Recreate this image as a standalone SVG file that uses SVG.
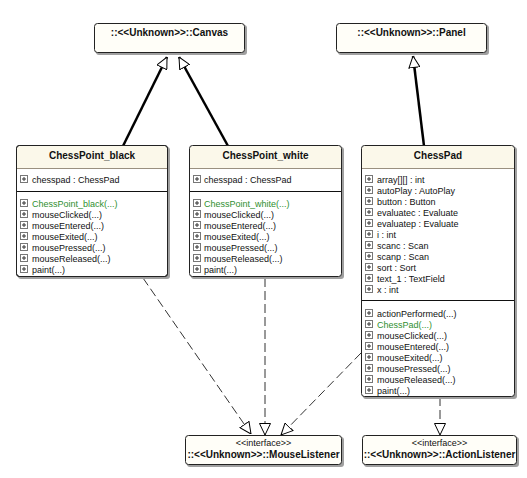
<svg xmlns="http://www.w3.org/2000/svg" width="527" height="478" viewBox="0 0 527 478">
<style>
text{font-family:"Liberation Sans",Arial,sans-serif;fill:#111}
.t{font-size:10px;font-weight:bold;text-anchor:middle}
.m{font-size:9px}
.g{fill:#2f8f2f}
.st{font-size:9px;text-anchor:middle}
.box{fill:#fffef8;stroke:#222;stroke-width:1}
.hdr{fill:#fbf8ea}
.body{fill:#fff}
.sh{fill:#a0a0a0}
.sep{stroke:#111;stroke-width:1}
.hsep{stroke:#9a9080;stroke-width:1}
.gen{stroke:#000;stroke-width:2.5;fill:none}
.dep{stroke:#333;stroke-width:1;stroke-dasharray:9 4;fill:none}
</style>
<defs>
<marker id="tri" viewBox="0 0 12 12" refX="12" refY="6" markerWidth="12" markerHeight="12" markerUnits="userSpaceOnUse" orient="auto">
<path d="M0.5,0.5 L12,6 L0.5,11.5 Z" fill="#fff" stroke="#000" stroke-width="1"/>
</marker>
<g id="ic"><rect x="0.5" y="0.5" width="7" height="7" fill="#fff" stroke="#777" stroke-width="1"/><path d="M2,4 H6 M4,2 V6" stroke="#333" stroke-width="1"/></g>
</defs>
<rect width="527" height="478" fill="#fff"/>

<g id="connectors">
<line class="gen" x1="123" y1="146" x2="167" y2="57" marker-end="url(#tri)"/>
<line class="gen" x1="228" y1="146" x2="179" y2="57" marker-end="url(#tri)"/>
<line class="gen" x1="424" y1="146" x2="413" y2="56" marker-end="url(#tri)"/>
<line class="dep" x1="143" y1="278" x2="251" y2="434" marker-end="url(#tri)"/>
<line class="dep" x1="265" y1="278" x2="265" y2="435" marker-end="url(#tri)"/>
<line class="dep" x1="361" y1="353" x2="281" y2="435" marker-end="url(#tri)"/>
<line class="dep" x1="440" y1="397" x2="440" y2="435" marker-end="url(#tri)"/>
</g>

<g id="canvas">
<rect class="sh" x="96" y="25" width="151" height="30" rx="3"/>
<rect class="box" x="94.5" y="23.5" width="150" height="29" rx="3"/>
<text class="t" x="169.5" y="36">::&lt;&lt;Unknown&gt;&gt;::Canvas</text>
</g>

<g id="panel">
<rect class="sh" x="338" y="25" width="151" height="30" rx="3"/>
<rect class="box" x="336.5" y="23.5" width="150" height="29" rx="3"/>
<text class="t" x="411.5" y="36">::&lt;&lt;Unknown&gt;&gt;::Panel</text>
</g>

<g id="chesspoint_black">
<rect class="sh" x="18" y="147" width="152" height="132" rx="3"/>
<rect class="body" x="16.5" y="145.5" width="151" height="131" rx="3" stroke="#222"/>
<path class="hdr" d="M17,168 V149 Q17,146 20,146 H164 Q167,146 167,149 V168 Z"/>
<rect x="16.5" y="145.5" width="151" height="131" rx="3" fill="none" stroke="#222"/>
<line class="hsep" x1="17" y1="168.5" x2="167" y2="168.5"/>
<line class="sep" x1="17" y1="191.5" x2="167" y2="191.5"/>
<text class="t" x="92" y="159">ChessPoint_black</text>
<use href="#ic" x="20" y="175"/><text class="m" x="32" y="182.5">chesspad : ChessPad</text>
<use href="#ic" x="20" y="199"/><text class="m g" x="32" y="206.5">ChessPoint_black(...)</text>
<use href="#ic" x="20" y="210"/><text class="m" x="32" y="217.5">mouseClicked(...)</text>
<use href="#ic" x="20" y="221"/><text class="m" x="32" y="228.5">mouseEntered(...)</text>
<use href="#ic" x="20" y="232"/><text class="m" x="32" y="239.5">mouseExited(...)</text>
<use href="#ic" x="20" y="243"/><text class="m" x="32" y="250.5">mousePressed(...)</text>
<use href="#ic" x="20" y="254"/><text class="m" x="32" y="261.5">mouseReleased(...)</text>
<use href="#ic" x="20" y="265"/><text class="m" x="32" y="272.5">paint(...)</text>
</g>

<g id="chesspoint_white">
<rect class="sh" x="191" y="147" width="153" height="132" rx="3"/>
<rect class="body" x="189.5" y="145.5" width="152" height="131" rx="3"/>
<path class="hdr" d="M190,168 V149 Q190,146 193,146 H338 Q341,146 341,149 V168 Z"/>
<rect x="189.5" y="145.5" width="152" height="131" rx="3" fill="none" stroke="#222"/>
<line class="hsep" x1="190" y1="168.5" x2="341" y2="168.5"/>
<line class="sep" x1="190" y1="191.5" x2="341" y2="191.5"/>
<text class="t" x="265.5" y="159">ChessPoint_white</text>
<use href="#ic" x="193" y="175"/><text class="m" x="204" y="182.5">chesspad : ChessPad</text>
<use href="#ic" x="193" y="199"/><text class="m g" x="204" y="206.5">ChessPoint_white(...)</text>
<use href="#ic" x="193" y="210"/><text class="m" x="204" y="217.5">mouseClicked(...)</text>
<use href="#ic" x="193" y="221"/><text class="m" x="204" y="228.5">mouseEntered(...)</text>
<use href="#ic" x="193" y="232"/><text class="m" x="204" y="239.5">mouseExited(...)</text>
<use href="#ic" x="193" y="243"/><text class="m" x="204" y="250.5">mousePressed(...)</text>
<use href="#ic" x="193" y="254"/><text class="m" x="204" y="261.5">mouseReleased(...)</text>
<use href="#ic" x="193" y="265"/><text class="m" x="204" y="272.5">paint(...)</text>
</g>

<g id="chesspad">
<rect class="sh" x="363" y="147" width="154" height="252" rx="3"/>
<rect class="body" x="361.5" y="145.5" width="153" height="251" rx="3"/>
<path class="hdr" d="M362,168 V149 Q362,146 365,146 H511 Q514,146 514,149 V168 Z"/>
<rect x="361.5" y="145.5" width="153" height="251" rx="3" fill="none" stroke="#222"/>
<line class="hsep" x1="362" y1="168.5" x2="514" y2="168.5"/>
<line class="sep" x1="362" y1="300.5" x2="514" y2="300.5"/>
<text class="t" x="438" y="159">ChessPad</text>
<use href="#ic" x="365" y="175"/><text class="m" x="377" y="182.5">array[][] : int</text>
<use href="#ic" x="365" y="186"/><text class="m" x="377" y="193.5">autoPlay : AutoPlay</text>
<use href="#ic" x="365" y="197"/><text class="m" x="377" y="204.5">button : Button</text>
<use href="#ic" x="365" y="208"/><text class="m" x="377" y="215.5">evaluatec : Evaluate</text>
<use href="#ic" x="365" y="219"/><text class="m" x="377" y="226.5">evaluatep : Evaluate</text>
<use href="#ic" x="365" y="230"/><text class="m" x="377" y="237.5">i : int</text>
<use href="#ic" x="365" y="241"/><text class="m" x="377" y="248.5">scanc : Scan</text>
<use href="#ic" x="365" y="252"/><text class="m" x="377" y="259.5">scanp : Scan</text>
<use href="#ic" x="365" y="263"/><text class="m" x="377" y="270.5">sort : Sort</text>
<use href="#ic" x="365" y="274"/><text class="m" x="377" y="281.5">text_1 : TextField</text>
<use href="#ic" x="365" y="285"/><text class="m" x="377" y="292.5">x : int</text>
<use href="#ic" x="365" y="309"/><text class="m" x="377" y="316.5">actionPerformed(...)</text>
<use href="#ic" x="365" y="320"/><text class="m g" x="377" y="327.5">ChessPad(...)</text>
<use href="#ic" x="365" y="331"/><text class="m" x="377" y="338.5">mouseClicked(...)</text>
<use href="#ic" x="365" y="342"/><text class="m" x="377" y="349.5">mouseEntered(...)</text>
<use href="#ic" x="365" y="353"/><text class="m" x="377" y="360.5">mouseExited(...)</text>
<use href="#ic" x="365" y="364"/><text class="m" x="377" y="371.5">mousePressed(...)</text>
<use href="#ic" x="365" y="375"/><text class="m" x="377" y="382.5">mouseReleased(...)</text>
<use href="#ic" x="365" y="386"/><text class="m" x="377" y="393.5">paint(...)</text>
</g>

<g id="mouselistener">
<rect class="sh" x="187" y="437" width="157" height="30" rx="3"/>
<rect class="box" x="185.5" y="435.5" width="156" height="29" rx="3"/>
<text class="st" x="263.5" y="446">&lt;&lt;interface&gt;&gt;</text>
<text class="t" x="263.5" y="458">::&lt;&lt;Unknown&gt;&gt;::MouseListener</text>
</g>

<g id="actionlistener">
<rect class="sh" x="364" y="437" width="155" height="30" rx="3"/>
<rect class="box" x="362.5" y="435.5" width="154" height="29" rx="3"/>
<text class="st" x="439.5" y="446">&lt;&lt;interface&gt;&gt;</text>
<text class="t" x="439.5" y="458">::&lt;&lt;Unknown&gt;&gt;::ActionListener</text>
</g>
</svg>
